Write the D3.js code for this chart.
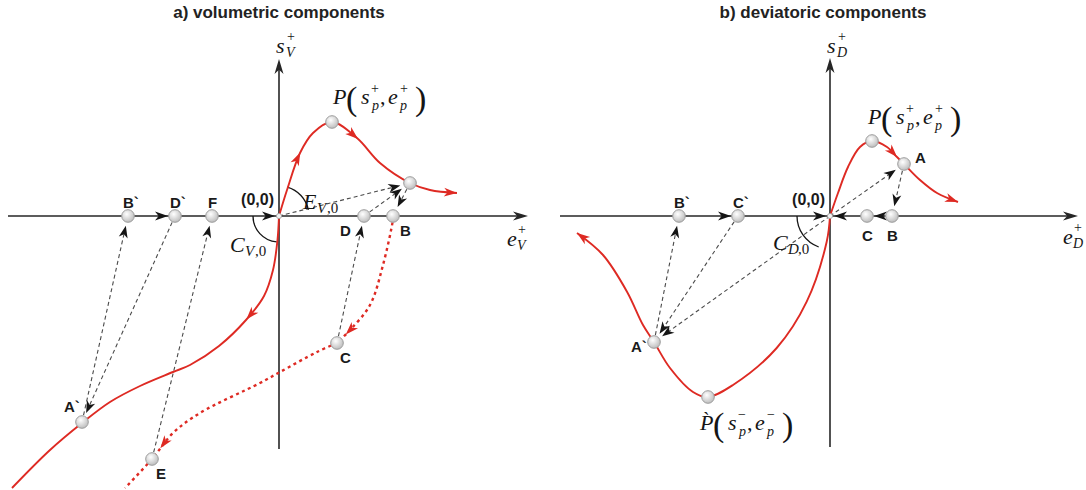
<!DOCTYPE html>
<html>
<head>
<meta charset="utf-8">
<script src="https://cdn.jsdelivr.net/npm/d3@7"></script>
<style>
  body { margin: 0; background: #fff; }
  svg { display: block; }
  .title { font: bold 17px Arial, "Liberation Sans", sans-serif; fill: #222; }
  .pt { font: bold 15px Arial, "Liberation Sans", sans-serif; fill: #1a1a1a; }
  .org { font: bold 16px Arial, "Liberation Sans", sans-serif; fill: #1a1a1a; }
</style>
</head>
<body>
<div id="chart"></div>
<script>
// strain e on x, stress s on y, origin of each panel at (0,0)

// a) volumetric components
const volLoading = [[0,0],[0.08,0.26],[0.21,0.63],[0.34,0.83],[0.53,0.94],[0.78,0.78],[1.01,0.53],[1.31,0.33],[1.51,0.26],[1.78,0.23]];
const volReversal = [[0,0],[-0.015,-0.24],[-0.06,-0.54],[-0.15,-0.8],[-0.33,-1.04],[-0.6,-1.3],[-0.89,-1.49],[-1.06,-1.56],[-1.39,-1.7],[-1.69,-1.86],[-1.97,-2.07],[-2.29,-2.34],[-2.67,-2.72]];
const volUnloadBC = [[1.14,0],[1.137,-0.05],[1.04,-0.49],[0.91,-0.89],[0.71,-1.14],[0.58,-1.27]];
const volUnloadCE = [[0.58,-1.27],[0.38,-1.36],[0.01,-1.56],[-0.19,-1.67],[-0.79,-1.97],[-1.06,-2.17],[-1.27,-2.43],[-1.54,-2.72]];
const volNodes = [["P",0.53,0.94],["A",1.31,0.33],["B",1.14,0],["D",0.85,0],["B`",-1.51,0],["D`",-1.04,0],["F",-0.67,0],["A`",-1.97,-2.06],["C",0.58,-1.27],["E",-1.27,-2.43]];
const volLinks = [["O","A"],["D","A"],["A","B"],["A`","B`"],["D`","A`"],["E","F"],["C","D"]];
const volAxisSteps = [[-1.51,-1.04],[-0.5,0]];
const volAxisRange = [-2.71, 2.49, -2.33, 1.57];
const volMarks = [[0.22,0.63],[0.79,0.77]];
const volRevMarks = [[-0.32,-1.04]];
const volBCMarks = [[0.67,-1.19]];
const volCEMarks = [[-1.16,-2.34]];

// b) deviatoric components
const devLoading = [[0,0],[0.08,0.23],[0.18,0.49],[0.3,0.69],[0.42,0.75],[0.57,0.69],[0.67,0.59],[0.74,0.52],[0.9,0.36],[1.07,0.23],[1.28,0.14]];
const devReversal = [[0,0],[-0.033,-0.257],[-0.233,-0.857],[-0.533,-1.32],[-0.97,-1.69],[-1.22,-1.81],[-1.37,-1.76],[-1.6,-1.52],[-1.76,-1.26],[-1.87,-1.09],[-2.03,-0.757],[-2.27,-0.39],[-2.53,-0.17]];
const devNodes = [["P",0.42,0.75],["A",0.74,0.52],["B",0.62,0],["C",0.37,0],["B`",-1.51,0],["C`",-0.92,0],["A`",-1.76,-1.26],["P`",-1.22,-1.81]];
const devLinks = [["O","A"],["A","B"],["O","A`"],["C`","A`"],["A`","B`"]];
const devAxisSteps = [[-1.51,-0.92],[-0.5,0],[0.62,0.37],[0.37,0]];
const devAxisRange = [-2.7, 2.48, -2.31, 1.58];
const devMarks = [[0.67,0.59]];

const eDomain = [-2.7, 2.5], sDomain = [-2.74, 1.56];

const RED = "#de2a23", DASH = "#4a4a4a", AX = "#262626", INK = "#151515";
const SERIF = "'Times New Roman', 'Liberation Serif', serif";

const svg = d3.select("#chart").append("svg").attr("width", 1086).attr("height", 490);
const grad = svg.append("defs").append("radialGradient").attr("id", "ball")
  .attr("cx", "40%").attr("cy", "35%").attr("r", "70%");
grad.append("stop").attr("offset", "0%").attr("stop-color", "#ffffff");
grad.append("stop").attr("offset", "100%").attr("stop-color", "#b9b9b9");

function arrow(g, px, py, deg, len, wid, col) {
  g.append("path")
    .attr("d", `M0,0L${-len},${-wid / 2}L${-len * 0.72},0L${-len},${wid / 2}Z`)
    .attr("transform", `translate(${px},${py}) rotate(${deg})`)
    .attr("fill", col);
}

function mathText(g, x0, y0, parts) {
  parts.forEach(([t, dx, dy, size, it]) => {
    g.append("text").attr("x", x0 + dx).attr("y", y0 + dy)
      .attr("font-family", SERIF).attr("font-size", size)
      .attr("font-style", it ? "italic" : "normal").attr("fill", INK).text(t);
  });
}
const peakParts = (sign, head) => [[head,0,0,22,1],["(",13,6,34,0],["s",28,0,22,1],[sign,38,-11,14,0],["p",39,6,14,1],
  [",",47,0,22,0],["e",55,0,22,1],[sign,67,-11,14,0],["p",67,6,14,1],[")",82,6,34,0]];
const axisParts = (v, sub) => [[v,0,0,22,1],["+",11,-12,14,0],[sub,10,4,14,1]];
const modParts = (v, sub, w) => [[v,0,0,22,1],[sub,w,4,15,1],[",0",w + 10,4,15,0]];

function panel(p) {
  const g = svg.append("g");
  const x = d3.scaleLinear().domain(eDomain).range(p.xRange);
  const y = d3.scaleLinear().domain(sDomain).range([490, 60]);
  const ox = x(0), oy = y(0);
  const pos = {O: [ox, oy]};
  p.nodes.forEach(([id, e, s]) => pos[id] = [x(e), y(s)]);

  g.append("text").attr("class", "title").attr("x", p.titleX).attr("y", 18)
    .attr("text-anchor", "middle").text(p.title);

  // axes
  const [e0, e1, s0, s1] = p.axisRange;
  g.append("line").attr("x1", x(e0)).attr("x2", x(e1) - 6).attr("y1", oy).attr("y2", oy)
    .attr("stroke", AX).attr("stroke-width", 1.6);
  arrow(g, x(e1), oy, 0, 15, 9, AX);
  g.append("line").attr("x1", ox).attr("x2", ox).attr("y1", y(s0)).attr("y2", y(s1) + 6)
    .attr("stroke", AX).attr("stroke-width", 1.6);
  arrow(g, ox, y(s1), -90, 15, 9, AX);
  p.axisSteps.forEach(([a, b]) => {
    const dir = b > a ? 1 : -1, gap = b === 0 ? 4 : 7;
    arrow(g, x(b) - dir * gap, oy, dir > 0 ? 0 : 180, 13, 9, INK);
  });

  // angle arcs
  p.arcs.forEach(([a0, a1, r]) => {
    const pt = a => [ox + r * Math.cos(a * Math.PI / 180), oy - r * Math.sin(a * Math.PI / 180)];
    const [xa, ya] = pt(a0), [xb, yb] = pt(a1);
    g.append("path").attr("d", `M${xa},${ya}A${r},${r} 0 0 0 ${xb},${yb}`)
      .attr("fill", "none").attr("stroke", INK).attr("stroke-width", 1.3);
  });

  // dashed projection lines
  p.links.forEach(([a, b]) => {
    const A = pos[a], B = pos[b];
    const dx = B[0] - A[0], dy = B[1] - A[1], d = Math.hypot(dx, dy), ux = dx / d, uy = dy / d;
    const sa = a === "O" ? 0 : 7, eb = b === "O" ? 3 : 10;
    const tx = B[0] - ux * eb, ty = B[1] - uy * eb;
    g.append("line").attr("x1", A[0] + ux * sa).attr("y1", A[1] + uy * sa)
      .attr("x2", tx - ux * 6).attr("y2", ty - uy * 6)
      .attr("stroke", DASH).attr("stroke-width", 1.1).attr("stroke-dasharray", "4,3");
    arrow(g, tx, ty, Math.atan2(uy, ux) * 180 / Math.PI, 12, 9, INK);
  });

  // red paths
  const line = d3.line().x(d => x(d[0])).y(d => y(d[1])).curve(d3.curveCatmullRom.alpha(0.5));
  const place = (node, l) => {
    const a = node.getPointAtLength(Math.max(l - 3, 0)), b = node.getPointAtLength(l);
    arrow(g, b.x, b.y, Math.atan2(b.y - a.y, b.x - a.x) * 180 / Math.PI, 13, 9, RED);
  };
  p.curves.forEach(c => {
    const path = g.append("path").attr("d", line(c.pts)).attr("fill", "none")
      .attr("stroke", RED).attr("stroke-width", c.dotted ? 2.4 : 1.9)
      .attr("stroke-dasharray", c.dotted ? "3,3.5" : null);
    const node = path.node(), L = node.getTotalLength();
    c.marks.forEach(m => {
      let best = 0, bd = Infinity;
      for (let l = 0; l <= L; l += 0.5) {
        const q = node.getPointAtLength(l);
        const d = (q.x - x(m[0])) ** 2 + (q.y - y(m[1])) ** 2;
        if (d < bd) { bd = d; best = l; }
      }
      place(node, best);
    });
    if (c.end) place(node, L);
  });

  // origin and nodes
  g.append("circle").attr("cx", ox).attr("cy", oy).attr("r", 2.6)
    .attr("fill", "#f2f2f2").attr("stroke", "#9a9a9a").attr("stroke-width", 0.8);
  g.append("text").attr("class", "org").attr("x", ox - 5).attr("y", oy - 11)
    .attr("text-anchor", "end").text("(0,0)");
  p.nodes.forEach(([id]) => {
    const [cx, cy] = pos[id];
    g.append("circle").attr("cx", cx).attr("cy", cy).attr("r", 6.3)
      .attr("fill", "url(#ball)").attr("stroke", "#9d9d9d").attr("stroke-width", 1);
    const lp = p.labelPos[id];
    if (lp) g.append("text").attr("class", "pt").attr("x", cx + lp[0]).attr("y", cy + lp[1]).text(id);
  });

  p.math.forEach(([x0, y0, parts]) => mathText(g, x0, y0, parts));
  return pos;
}

panel({
  title: "a) volumetric components", titleX: 279, xRange: [9, 529],
  axisRange: volAxisRange, axisSteps: volAxisSteps, nodes: volNodes, links: volLinks,
  arcs: [[12, 74, 30], [180, 265, 26]],
  curves: [
    {pts: volLoading, marks: volMarks, end: true},
    {pts: volReversal, marks: volRevMarks},
    {pts: volUnloadBC, marks: volBCMarks, dotted: true},
    {pts: volUnloadCE, marks: volCEMarks, dotted: true}
  ],
  labelPos: {"B`": [-5, -8], "D`": [-5, -8], F: [-4, -8], D: [-24, 20], B: [7, 20],
             C: [3, 20], E: [4, 20], "A`": [-18, -10]},
  math: [
    [276, 53, axisParts("s", "V")],
    [507, 246, axisParts("e", "V")],
    [303, 209, modParts("E", "V", 14)],
    [230, 252, modParts("C", "V", 15)],
    [333, 104, peakParts("+", "P")]
  ]
});

panel({
  title: "b) deviatoric components", titleX: 823, xRange: [560, 1080],
  axisRange: devAxisRange, axisSteps: devAxisSteps, nodes: devNodes, links: devLinks,
  arcs: [[180, 250, 33]],
  curves: [
    {pts: devLoading, marks: devMarks, end: true},
    {pts: devReversal, marks: [], end: true}
  ],
  labelPos: {"B`": [-5, -8], "C`": [-5, -8], C: [-5, 25], B: [-5, 25], A: [11, -1], "A`": [-23, 10]},
  math: [
    [827, 53, axisParts("s", "D")],
    [1063, 244, axisParts("e", "D")],
    [773, 250, modParts("C", "D", 15)],
    [868, 124, peakParts("+", "P")],
    [700, 430, peakParts("\u2212", "P\u0300")]
  ]
});
</script>
</body>
</html>
